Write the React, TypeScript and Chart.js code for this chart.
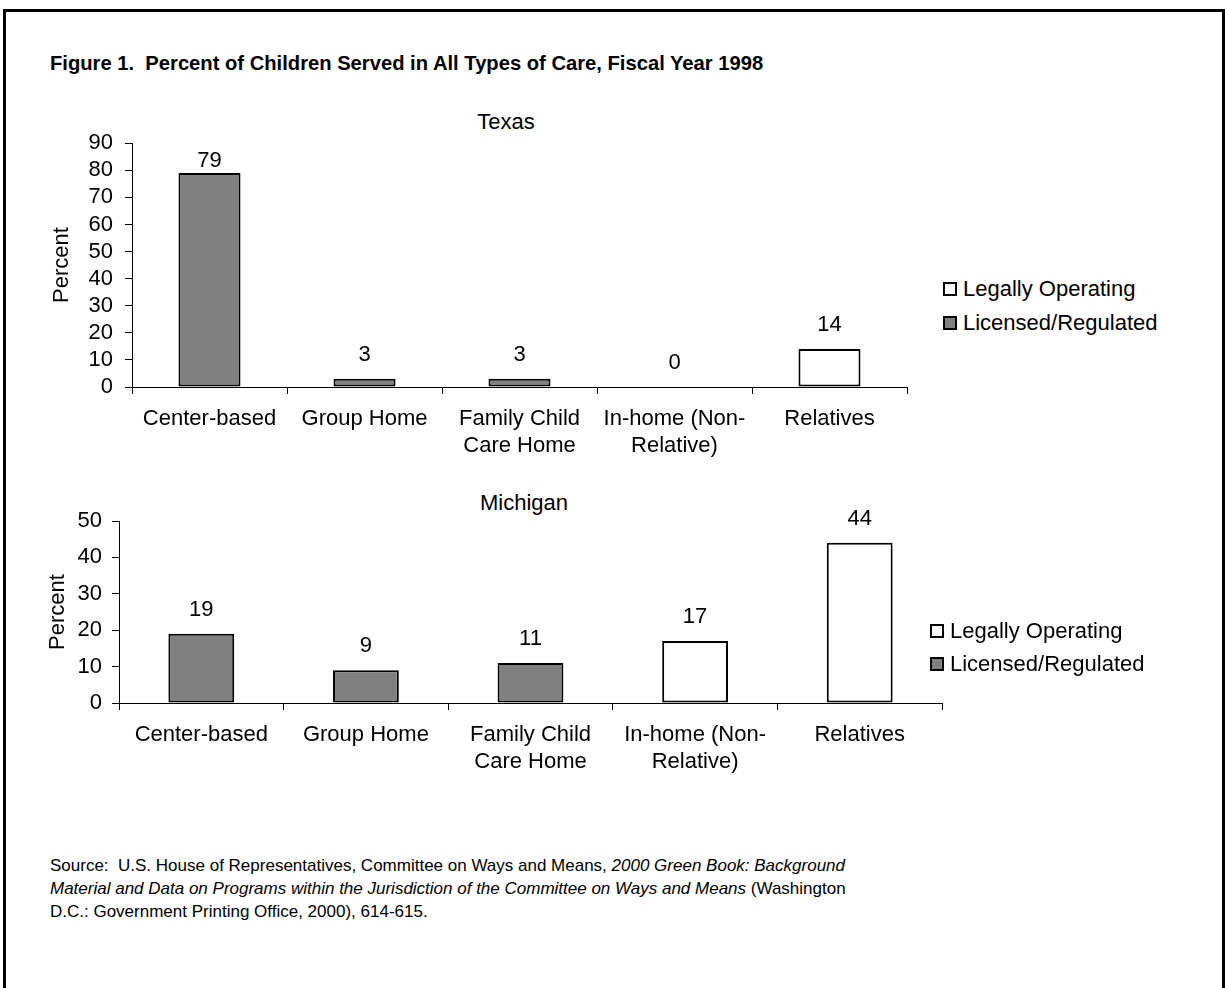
import React, { useEffect, useRef } from "react";
import { Chart, registerables } from "chart.js";

Chart.register(...registerables);

const FONT = "'Liberation Sans', Arial, Helvetica, sans-serif";

const categories: string[][] = [
  ["Center-based"],
  ["Group Home"],
  ["Family Child", "Care Home"],
  ["In-home (Non-", "Relative)"],
  ["Relatives"],
];
const seriesNames = ["Legally Operating", "Licensed/Regulated"];

const texasLegal: (number | null)[] = [null, null, null, 0, 14];
const texasLicensed: (number | null)[] = [79, 3, 3, null, null];
const texasMax = 90;

const michiganLegal: (number | null)[] = [null, null, null, 17, 44];
const michiganLicensed: (number | null)[] = [19, 9, 11, null, null];
const michiganMax = 50;

const GRAY = "#808080";
const FS = 22;

const valueLabels = {
  id: "valueLabels",
  afterDatasetsDraw(chart: any, _args: any, opts: any) {
    const { ctx, chartArea } = chart;
    const minOff = opts && typeof opts.minOffset === "number" ? opts.minOffset : -1000;
    ctx.save();
    ctx.font = `${FS}px ${FONT}`;
    ctx.fillStyle = "#000";
    ctx.textAlign = "center";
    ctx.textBaseline = "middle";
    chart.data.datasets.forEach((ds: any, di: number) => {
      const meta = chart.getDatasetMeta(di);
      ds.data.forEach((v: number | null, i: number) => {
        if (v === null || v === undefined) return;
        const el = meta.data[i];
        if (!el) return;
        const y = Math.max(el.y - 24, chartArea.top + minOff);
        ctx.fillText(String(v), el.x, y);
      });
    });
    ctx.restore();
  },
};

type Opt = { padLeft: number; yWidth: number; tickPad: number; padTop: number; padRight: number; labelMin: number };

function makeConfig(legal: (number | null)[], licensed: (number | null)[], max: number, o: Opt): any {
  return {
    type: "bar",
    data: {
      labels: categories,
      datasets: [
        {
          label: seriesNames[0],
          data: legal,
          backgroundColor: "#ffffff",
          borderColor: "#000000",
          borderWidth: 2,
          borderSkipped: false,
        },
        {
          label: seriesNames[1],
          data: licensed,
          backgroundColor: GRAY,
          borderColor: "#000000",
          borderWidth: 2,
          borderSkipped: false,
        },
      ],
    },
    options: {
      responsive: false,
      animation: false,
      events: [],
      layout: { padding: { left: o.padLeft, top: o.padTop, right: o.padRight, bottom: 0 } },
      datasets: { bar: { categoryPercentage: 1, barPercentage: 0.4 } },
      plugins: {
        legend: { display: false },
        tooltip: { enabled: false },
        title: { display: false },
        valueLabels: { minOffset: o.labelMin },
      },
      scales: {
        x: {
          stacked: true,
          afterFit: (s: any) => {
            s.height = 80;
          },
          grid: {
            display: true,
            offset: true,
            drawOnChartArea: false,
            drawTicks: true,
            tickLength: 7,
            color: "#000",
            lineWidth: 1,
          },
          border: { display: true, color: "#000", width: 1 },
          ticks: {
            color: "#000",
            font: { family: FONT, size: FS, lineHeight: 1.2 },
            maxRotation: 0,
            minRotation: 0,
            autoSkip: false,
            padding: 12,
          },
        },
        y: {
          stacked: true,
          min: 0,
          max,
          afterFit: (s: any) => {
            s.width = o.yWidth;
          },
          grid: {
            display: true,
            drawOnChartArea: false,
            drawTicks: true,
            tickLength: 7,
            color: "#000",
            lineWidth: 1,
          },
          border: { display: true, color: "#000", width: 1 },
          ticks: {
            stepSize: 10,
            autoSkip: false,
            color: "#000",
            font: { family: FONT, size: FS },
            padding: o.tickPad,
          },
          title: {
            display: true,
            text: "Percent",
            color: "#000",
            font: { family: FONT, size: FS, lineHeight: 1.2 },
            padding: 0,
          },
        },
      },
    },
    plugins: [valueLabels],
  };
}

function BarChart(props: {
  legal: (number | null)[];
  licensed: (number | null)[];
  max: number;
  left: number;
  top: number;
  width: number;
  height: number;
  o: Opt;
}) {
  const ref = useRef<HTMLCanvasElement | null>(null);
  useEffect(() => {
    if (!ref.current) return;
    const chart = new Chart(ref.current, makeConfig(props.legal, props.licensed, props.max, props.o));
    return () => chart.destroy();
  }, []);
  return (
    <canvas
      ref={ref}
      width={props.width}
      height={props.height}
      style={{ position: "absolute", left: props.left, top: props.top, width: props.width, height: props.height }}
    />
  );
}

function Legend(props: { left: number; textLeft: number; y1: number; y2: number }) {
  const items = [
    { name: seriesNames[0], fill: "#ffffff", y: props.y1 },
    { name: seriesNames[1], fill: GRAY, y: props.y2 },
  ];
  return (
    <>
      {items.map((it) => (
        <React.Fragment key={it.name}>
          <div
            style={{
              position: "absolute",
              left: props.left,
              top: it.y - 7,
              width: 10,
              height: 10,
              border: "2px solid #000",
              background: it.fill,
            }}
          />
          <div
            style={{
              position: "absolute",
              left: props.textLeft,
              top: it.y - 13,
              height: 26,
              lineHeight: "26px",
              fontFamily: FONT,
              fontSize: FS,
              color: "#000",
              whiteSpace: "nowrap",
            }}
          >
            {it.name}
          </div>
        </React.Fragment>
      ))}
    </>
  );
}

export default function App() {
  const txt: React.CSSProperties = {
    position: "absolute",
    fontFamily: FONT,
    color: "#000",
    whiteSpace: "nowrap",
  };
  return (
    <div
      style={{
        position: "absolute",
        left: 0,
        top: 0,
        width: 1225,
        height: 988,
        overflow: "hidden",
        background: "#fff",
      }}
    >
      <div
        style={{
          position: "absolute",
          left: 3,
          top: 9,
          width: 1216,
          height: 1000,
          border: "3px solid #000",
        }}
      />
      <div style={{ ...txt, left: 50, top: 50, fontSize: 20.2, fontWeight: "bold", lineHeight: "26px" }}>
        Figure 1.&nbsp; Percent of Children Served in All Types of Care, Fiscal Year 1998
      </div>
      <div style={{ ...txt, left: 406, width: 200, textAlign: "center", top: 109, fontSize: FS, lineHeight: "26px" }}>
        Texas
      </div>
      <div style={{ ...txt, left: 424, width: 200, textAlign: "center", top: 490, fontSize: FS, lineHeight: "26px" }}>
        Michigan
      </div>

      <BarChart
        legal={texasLegal}
        licensed={texasLicensed}
        max={texasMax}
        left={0}
        top={118}
        width={930}
        height={349}
        o={{ padLeft: 49, yWidth: 83, tickPad: 12, padTop: 25, padRight: 23, labelMin: 18 }}
      />
      <Legend left={943} textLeft={963} y1={289} y2={323} />

      <BarChart
        legal={michiganLegal}
        licensed={michiganLicensed}
        max={michiganMax}
        left={0}
        top={490}
        width={960}
        height={293}
        o={{ padLeft: 45, yWidth: 74, tickPad: 10, padTop: 31, padRight: 18, labelMin: -30 }}
      />
      <Legend left={930} textLeft={950} y1={631} y2={664} />

      <div style={{ ...txt, left: 50, top: 854, fontSize: 17, lineHeight: "23px" }}>
        Source:&nbsp; U.S. House of Representatives, Committee on Ways and Means,{" "}
        <i>2000 Green Book: Background</i>
        <br />
        <i>Material and Data on Programs within the Jurisdiction of the Committee on Ways and Means</i> (Washington
        <br />
        D.C.: Government Printing Office, 2000), 614-615.
      </div>
    </div>
  );
}
